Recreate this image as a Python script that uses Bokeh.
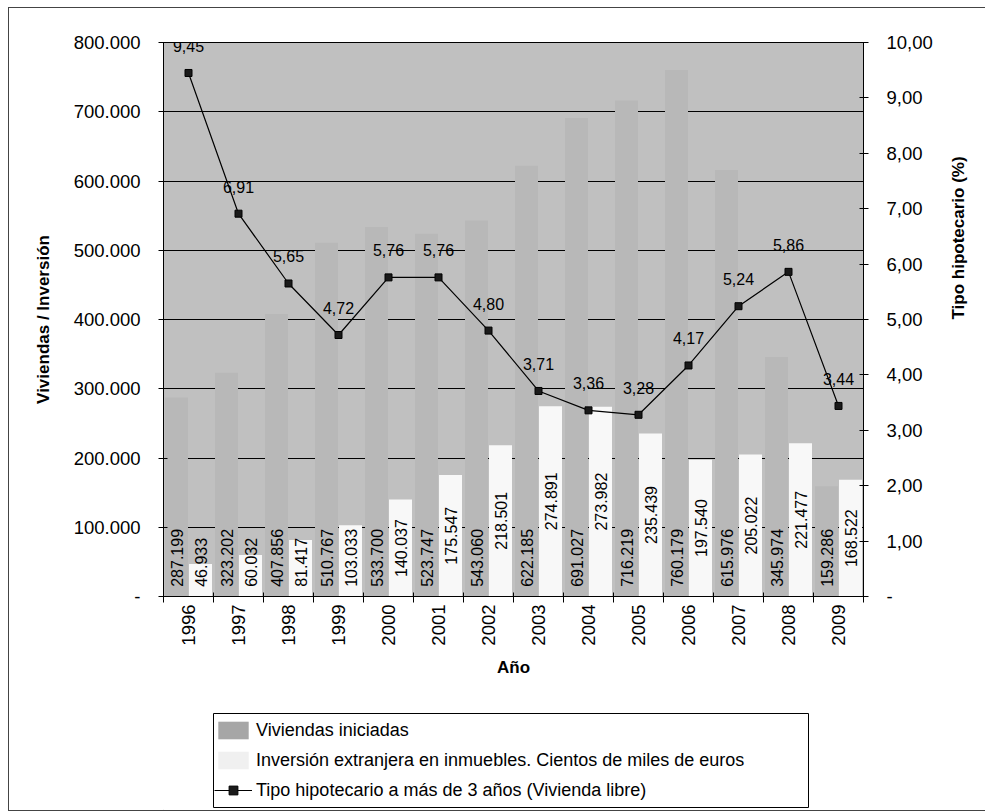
import math

from bokeh.core.properties import value
from bokeh.embed import file_html
from bokeh.layouts import column
from bokeh.models import FixedTicker, Legend, LegendItem, LinearAxis, Range1d
from bokeh.plotting import figure
from bokeh.resources import INLINE

# ---- data -------------------------------------------------------------
years = ["1996", "1997", "1998", "1999", "2000", "2001", "2002",
         "2003", "2004", "2005", "2006", "2007", "2008", "2009"]
viviendas = [287199, 323202, 407856, 510767, 533700, 523747, 543060,
             622185, 691027, 716219, 760179, 615976, 345974, 159286]
inversion = [46933, 60032, 81417, 103033, 140037, 175547, 218501,
             274891, 273982, 235439, 197540, 205022, 221477, 168522]
tipo = [9.45, 6.91, 5.65, 4.72, 5.76, 5.76, 4.80,
        3.71, 3.36, 3.28, 4.17, 5.24, 5.86, 3.44]

left_ticks = [0, 100000, 200000, 300000, 400000, 500000, 600000, 700000, 800000]
left_tick_labels = ["-", "100.000", "200.000", "300.000", "400.000",
                    "500.000", "600.000", "700.000", "800.000"]
right_ticks = [0, 1, 2, 3, 4, 5, 6, 7, 8, 9, 10]
right_tick_labels = ["-", "1,00", "2,00", "3,00", "4,00", "5,00",
                     "6,00", "7,00", "8,00", "9,00", "10,00"]

FONT = "Liberation Sans"
VIV_COLOR = "#b8b8b8"
INV_COLOR = "#f8f8f8"


def miles(v):
    return f"{v:,}".replace(",", ".")


def coma(v):
    return f"{v:.2f}".replace(".", ",")


xs = list(range(len(years)))
BAR_W = 0.46
OFF = 0.24

# ---- main chart ---------------------------------------------------------
p = figure(width=976, height=693,
           x_range=Range1d(-0.5, len(years) - 0.5),
           y_range=Range1d(0, 800000),
           output_backend="svg", toolbar_location=None,
           min_border_left=154, min_border_right=122,
           min_border_top=34, min_border_bottom=105)
p.extra_y_ranges = {"tipo": Range1d(0, 10)}
p.background_fill_color = "#c0c0c0"
p.border_fill_color = "white"
p.outline_line_color = "black"
p.outline_line_width = 1

xa = p.xaxis[0]
xa.ticker = FixedTicker(ticks=xs, minor_ticks=[i - 0.5 for i in range(len(years) + 1)])
xa.major_label_overrides = {i: y for i, y in enumerate(years)}
xa.major_label_orientation = math.pi / 2
xa.major_tick_in = 0
xa.major_tick_out = 0
xa.minor_tick_in = 4
xa.minor_tick_out = 6
xa.minor_tick_line_color = "black"
xa.major_label_standoff = 2
xa.axis_label = "Año"
xa.axis_label_standoff = 9

ya = p.yaxis[0]
ya.ticker = FixedTicker(ticks=left_ticks)
ya.major_label_overrides = dict(zip(left_ticks, left_tick_labels))
ya.major_tick_in = 4
ya.major_tick_out = 5
ya.major_label_standoff = 18
ya.axis_label = "Viviendas / Inversión"
ya.axis_label_standoff = 18

ra = LinearAxis(y_range_name="tipo", ticker=FixedTicker(ticks=right_ticks),
                major_label_overrides=dict(zip(right_ticks, right_tick_labels)))
ra.major_tick_in = 4
ra.major_tick_out = 5
ra.major_label_standoff = 18
ra.axis_label = "Tipo hipotecario (%)"
ra.axis_label_standoff = 23
if "axis_label_orientation" in ra.properties():
    ra.axis_label_orientation = math.pi / 2
p.add_layout(ra, "right")

for ax in (xa, ya, ra):
    ax.axis_line_color = "black"
    ax.major_tick_line_color = "black"
    ax.major_label_text_font = FONT
    ax.major_label_text_font_size = "18.5px"
    ax.major_label_text_color = "black"
    ax.axis_label_text_font = FONT
    ax.axis_label_text_font_size = "17px"
    ax.axis_label_text_font_style = "bold"
    ax.axis_label_text_color = "black"

p.xgrid.grid_line_color = None
p.ygrid.ticker = FixedTicker(ticks=left_ticks)
p.ygrid.grid_line_color = "black"
p.ygrid.grid_line_width = 1

# bars
p.vbar(x=[x - OFF for x in xs], top=viviendas, width=BAR_W,
       fill_color=VIV_COLOR, line_color=None)
p.vbar(x=[x + OFF for x in xs], top=inversion, width=BAR_W,
       fill_color=INV_COLOR, line_color=None)

# bar value labels (rotated, reading upward)
p.text(x=[x - OFF for x in xs], y=[14000] * len(xs),
       text=[miles(v) for v in viviendas], angle=math.pi / 2,
       text_align="left", text_baseline="middle",
       text_font=value(FONT), text_font_size="16px", text_color="black")

short = [i for i, v in enumerate(inversion) if v < 120000]
tall = [i for i, v in enumerate(inversion) if v >= 120000]
p.text(x=[xs[i] + OFF for i in short], y=[14000] * len(short),
       text=[miles(inversion[i]) for i in short], angle=math.pi / 2,
       text_align="left", text_baseline="middle",
       text_font=value(FONT), text_font_size="16px", text_color="black")
p.text(x=[xs[i] + OFF for i in tall], y=[inversion[i] / 2 for i in tall],
       text=[miles(inversion[i]) for i in tall], angle=math.pi / 2,
       text_align="center", text_baseline="middle",
       text_font=value(FONT), text_font_size="16px", text_color="black")

# mortgage rate line
p.line(xs, tipo, y_range_name="tipo", line_color="black", line_width=1.2)
p.scatter(xs, tipo, y_range_name="tipo", marker="square", size=7,
          fill_color="#1a1a1a", line_color="black")
p.text(x=xs, y=tipo, text=[coma(v) for v in tipo], y_range_name="tipo",
       y_offset=-27, text_align="center", text_baseline="middle",
       text_font=value(FONT), text_font_size="16px", text_color="black")

# ---- legend strip under the chart (ranges in pixels of its frame) -------
lg = figure(width=976, height=109, x_range=Range1d(0, 700), y_range=Range1d(0, 109),
            output_backend="svg", toolbar_location=None,
            x_axis_location=None, y_axis_location=None,
            min_border=0)
lg.grid.grid_line_color = None
lg.outline_line_color = None
lg.background_fill_color = None
lg.border_fill_color = "white"

# legend box
lg.quad(left=[50], right=[645], bottom=[3], top=[97],
        fill_color="white", line_color="black", line_width=1)

k_viv = lg.vbar(x=[-50], top=[1], width=1, fill_color="#a6a6a6", line_color=None)
k_inv = lg.vbar(x=[-50], top=[1], width=1, fill_color="#f0f0f0", line_color=None)
k_line = lg.line([-50, -40], [50, 50], line_color="black", line_width=1.2)
k_pts = lg.scatter([-50], [50], marker="square", size=7,
                   fill_color="#1a1a1a", line_color="black")

legend = Legend(items=[
    LegendItem(label="Viviendas iniciadas", renderers=[k_viv]),
    LegendItem(label="Inversión extranjera en inmuebles. Cientos de miles de euros",
               renderers=[k_inv]),
    LegendItem(label="Tipo hipotecario a más de 3 años (Vivienda libre)",
               renderers=[k_line, k_pts]),
], location=(51, 9))
legend.border_line_color = None
legend.background_fill_alpha = 0
legend.label_text_font = FONT
legend.label_text_font_size = "18px"
legend.label_text_color = "black"
legend.glyph_width = 38
legend.glyph_height = 22
legend.label_height = 22
legend.label_standoff = 4
legend.spacing = 8
legend.padding = 5
legend.margin = 0
lg.add_layout(legend, "center")

page = column(p, lg, spacing=0)
page.margin = (7, 0, 0, 8)
page.styles = {"border": "1px solid #444"}

open("out.html", "w").write(file_html(page, INLINE))
